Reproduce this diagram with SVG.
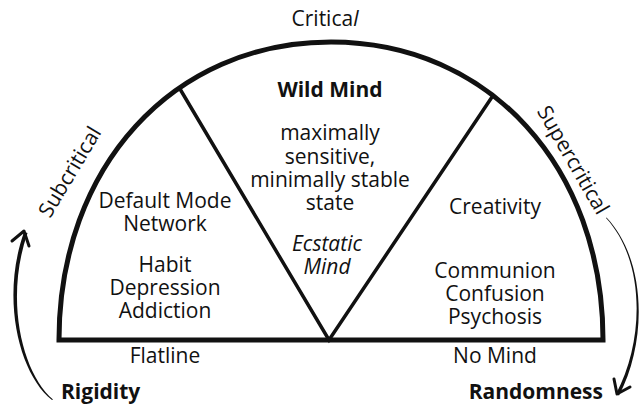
<svg xmlns="http://www.w3.org/2000/svg" width="640" height="411" viewBox="0 0 640 411">
  <style>
    text { font-family: "Open Sans", "Noto Sans", "DejaVu Sans", sans-serif; font-size: 21px; fill: #111; text-anchor: middle; }
    .b { font-weight: bold; }
    .i { font-style: italic; }
    .frame { fill: none; stroke: #111; stroke-width: 5; stroke-linejoin: miter; }
    .split { fill: none; stroke: #111; stroke-width: 3.5; stroke-linejoin: miter; }
    .head { fill: none; stroke: #111; stroke-width: 3; stroke-linecap: round; stroke-linejoin: round; }
    .tail { fill: #111; stroke: none; }
  </style>
  <rect width="640" height="411" fill="#fff"/>

  <!-- half-dome frame with the central wedge -->
  <g id="dome">
    <path class="frame" d="M59,340 C59,167 173,42 331,42 C489,42 603,167 603,340 Z"/>
    <path class="split" d="M180,89 L329,340 L492,97"/>
  </g>

  <g id="critical"><text x="325" y="26">Critica<tspan class="i">l</tspan></text></g>

  <g id="wild-mind">
    <text class="b" x="330" y="97">Wild Mind</text>
    <text x="330" y="140">maximally<tspan x="330" dy="24">sensitive,</tspan><tspan x="330" dy="23">minimally stable</tspan><tspan x="330" dy="23">state</tspan></text>
    <text class="i" x="327" y="251">Ecstatic<tspan x="327" dy="23">Mind</tspan></text>
  </g>

  <g id="subcritical-zone">
    <text x="165" y="208">Default Mode<tspan x="165" dy="23">Network</tspan></text>
    <text x="165" y="272">Habit<tspan x="165" dy="23">Depression</tspan><tspan x="165" dy="23">Addiction</tspan></text>
    <text x="165" y="363">Flatline</text>
  </g>

  <g id="supercritical-zone">
    <text x="495" y="214">Creativity</text>
    <text x="495" y="278">Communion<tspan x="495" dy="23">Confusion</tspan><tspan x="495" dy="23">Psychosis</tspan></text>
    <text x="495" y="363">No Mind</text>
  </g>

  <g id="subcritical-label"><text transform="translate(70,172) rotate(-59)" x="0" y="7">Subcritical</text></g>
  <g id="supercritical-label"><text transform="translate(573,160) rotate(60)" x="0" y="7">Supercritical</text></g>

  <g id="rigidity"><text class="b" x="61" y="399" style="text-anchor:start">Rigidity</text></g>
  <g id="randomness"><text class="b" x="603" y="399" style="text-anchor:end">Randomness</text></g>

  <!-- tapered curved arrows -->
  <g id="connectors">
    <path class="tail" d="M52,400 C20,375 0,300 24,232 L27.5,233 C4,301 23,374 53,399.5 Z"/>
    <path class="head" d="M12,241 L24,231 L29,246"/>
    <path class="tail" d="M606,218 C645,260 645,340 616,394 L619,395.5 C648,340 646,259 606.5,217.5 Z"/>
    <path class="head" d="M614,379 L617,394 L630,387"/>
  </g>
</svg>
